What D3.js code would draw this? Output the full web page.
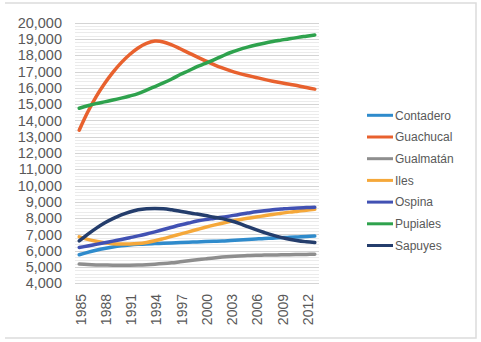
<!DOCTYPE html>
<html>
<head>
<meta charset="utf-8">
<script src="https://cdn.jsdelivr.net/npm/d3@7"></script>
<style>
  body { margin: 0; background: #fff; }
  svg { display: block; }
</style>
</head>
<body>
<div id="chart"></div>
<script>
// data
var years = d3.range(1985, 2014);
var tickYears = [1985, 1988, 1991, 1994, 1997, 2000, 2003, 2006, 2009, 2012];
var yTicks = d3.range(4000, 20001, 1000);
var names = ['Contadero', 'Guachucal', 'Gualmatán', 'Iles', 'Ospina', 'Pupiales', 'Sapuyes'];
var colors = ['#2f8bcc', '#e8612e', '#8e8e8e', '#f5a83a', '#4151b3', '#2ea24d', '#243d6c'];

var contadero = [5750, 5900, 6030, 6140, 6230, 6300, 6350, 6390, 6420, 6440, 6460, 6480, 6500, 6520, 6540,
  6560, 6580, 6600, 6630, 6660, 6690, 6720, 6750, 6770, 6800, 6830, 6850, 6870, 6900];
var guachucal = [13400, 14500, 15450, 16250, 16950, 17550, 18050, 18450, 18730, 18870, 18820, 18640, 18400, 18150, 17900,
  17660, 17430, 17220, 17040, 16890, 16760, 16640, 16520, 16410, 16310, 16220, 16130, 16020, 15920];
var gualmatan = [5180, 5150, 5130, 5120, 5110, 5110, 5110, 5120, 5140, 5170, 5210, 5260, 5320, 5380, 5440,
  5500, 5560, 5610, 5650, 5680, 5700, 5720, 5730, 5740, 5750, 5760, 5770, 5775, 5780];
var iles = [6850, 6700, 6580, 6490, 6430, 6410, 6410, 6440, 6510, 6610, 6740, 6880, 7020, 7160, 7300,
  7440, 7570, 7690, 7800, 7900, 7990, 8070, 8150, 8230, 8300, 8370, 8430, 8490, 8540];
var ospina = [6200, 6290, 6390, 6490, 6590, 6690, 6800, 6910, 7030, 7160, 7300, 7440, 7580, 7700, 7820,
  7910, 7980, 8050, 8140, 8230, 8310, 8390, 8460, 8520, 8560, 8600, 8630, 8650, 8670];
var pupiales = [14750, 14900, 15030, 15140, 15250, 15370, 15500, 15650, 15860, 16080, 16300, 16540, 16820, 17050, 17300,
  17500, 17720, 17950, 18170, 18350, 18500, 18630, 18740, 18840, 18930, 19020, 19100, 19170, 19240];
var sapuyes = [6600, 7000, 7370, 7700, 7970, 8200, 8380, 8510, 8580, 8600, 8580, 8510, 8420, 8330, 8250,
  8160, 8060, 7970, 7840, 7680, 7480, 7290, 7120, 6960, 6820, 6700, 6610, 6550, 6500];

var seriesValues = [contadero, guachucal, gualmatan, iles, ospina, pupiales, sapuyes];

var width = 481, height = 342;

var svg = d3.select('#chart').append('svg')
  .attr('width', width)
  .attr('height', height);

// frame (top, right, bottom)
svg.append('path')
  .attr('d', 'M5,3H476V338H5')
  .attr('fill', 'none')
  .attr('stroke', '#dcdcdc')
  .attr('stroke-width', 1.5);

var x = d3.scaleBand().domain(years).range([75, 319]).padding(0);
var y = d3.scaleLinear().domain([4000, 20000]).range([283.3, 22.7]);

var cx = function(yr) { return x(yr) + x.bandwidth() / 2; };

// minor gridlines
var g = svg.append('g');
g.selectAll('.minor').data(d3.range(4200, 20000, 200).filter(function(v) { return v % 1000 != 0; }))
  .enter().append('line')
  .attr('class', 'minor')
  .attr('x1', 75).attr('x2', 319)
  .attr('y1', function(d) { return Math.round(y(d)) + 0.5; })
  .attr('y2', function(d) { return Math.round(y(d)) + 0.5; })
  .attr('stroke', '#ebebeb');

// major gridlines
g.selectAll('.major').data(yTicks).enter().append('line')
  .attr('class', 'major')
  .attr('x1', 75).attr('x2', 319)
  .attr('y1', function(d) { return Math.round(y(d)) + 0.5; })
  .attr('y2', function(d) { return Math.round(y(d)) + 0.5; })
  .attr('stroke', '#d4d4d4');

// y labels
g.selectAll('.ylab').data(yTicks).enter().append('text')
  .attr('class', 'ylab')
  .attr('x', 62)
  .attr('y', function(d) { return y(d); })
  .attr('dy', '0.35em')
  .attr('text-anchor', 'end')
  .attr('font-family', 'Liberation Sans, Arial, sans-serif')
  .attr('font-size', '14.5px')
  .attr('fill', '#595959')
  .text(d3.format(','));

// x labels, rotated
g.selectAll('.xlab').data(tickYears).enter().append('text')
  .attr('class', 'xlab')
  .attr('transform', function(d) { return 'translate(' + (cx(d) + 1.5) + ',294) rotate(-90)'; })
  .attr('dy', '0.35em')
  .attr('text-anchor', 'end')
  .attr('font-family', 'Liberation Sans, Arial, sans-serif')
  .attr('font-size', '14px')
  .attr('fill', '#595959')
  .text(function(d) { return d; });

// series lines
var line = d3.line()
  .x(function(d, i) { return cx(years[i]); })
  .y(function(d) { return y(d); })
  .curve(d3.curveCatmullRom.alpha(0.5));

svg.append('g').selectAll('.series').data(seriesValues).enter().append('path')
  .attr('class', 'series')
  .attr('d', line)
  .attr('fill', 'none')
  .attr('stroke', function(d, i) { return colors[i]; })
  .attr('stroke-width', 3.5)
  .attr('stroke-linecap', 'round');

// legend
var legend = svg.append('g').selectAll('.leg').data(names).enter().append('g')
  .attr('class', 'leg')
  .attr('transform', function(d, i) { return 'translate(367,' + (115.3 + i * 21.7) + ')'; });

legend.append('line')
  .attr('x1', 0).attr('x2', 26)
  .attr('stroke', function(d, i) { return colors[i]; })
  .attr('stroke-width', 3);

legend.append('text')
  .attr('x', 28)
  .attr('dy', '0.35em')
  .attr('font-family', 'Liberation Sans Narrow, Liberation Sans, Arial, sans-serif')
  .attr('font-size', '12px')
  .attr('fill', '#595959')
  .text(function(d) { return d; });
</script>
</body>
</html>
